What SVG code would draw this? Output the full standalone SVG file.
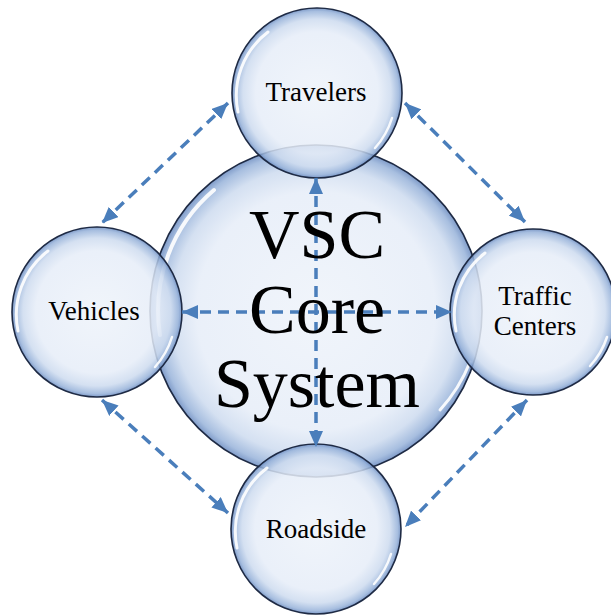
<svg xmlns="http://www.w3.org/2000/svg" width="611" height="616" viewBox="0 0 611 616">
<defs>
<radialGradient id="bubble" cx="50%" cy="50%" r="50%">
<stop offset="0" stop-color="#eef3fa"/>
<stop offset="0.72" stop-color="#e6edf8"/>
<stop offset="0.87" stop-color="#cddbef"/>
<stop offset="0.96" stop-color="#98b3da"/>
<stop offset="1" stop-color="#6889bf"/>
</radialGradient>
<marker id="ah" viewBox="0 0 16 14" refX="16" refY="7" markerWidth="16" markerHeight="14" markerUnits="userSpaceOnUse" orient="auto-start-reverse">
<path d="M0,0 L16,7 L0,14 z" fill="#4a7ebb"/>
</marker>
</defs>
<style>
.bub{fill:url(#bubble);fill-opacity:0.85;stroke:#1e2a44;stroke-width:1.6}
.hl{fill:none;stroke:#ffffff;stroke-linecap:round;stroke-opacity:0.9}
text{font-family:'Liberation Serif','Times New Roman','DejaVu Serif',serif;fill:#000;text-anchor:middle}
.small{font-size:27px}
.big{font-size:70px}
.con{fill:none;stroke:#4a7ebb;stroke-width:3.5;stroke-dasharray:11 7;marker-start:url(#ah);marker-end:url(#ah)}
</style>
<rect width="611" height="616" fill="#ffffff"/>

<g id="core">
<circle class="bub" cx="316" cy="311" r="166"/>
<path class="hl" stroke-width="4" d="M160,335 A158,158 0 0 1 214,190"/>
<path class="hl" stroke-width="3" d="M470,362 A158,158 0 0 1 440,410"/>
</g>

<g id="travelers">
<circle class="bub" cx="317" cy="93" r="85"/>
<path class="hl" stroke-width="3" d="M238,112 A80,80 0 0 1 268,32"/>
<path class="hl" stroke-width="2.5" d="M392,118 A80,80 0 0 1 375,148"/>
<text class="small" x="316" y="101" font-family="Liberation Serif, Times New Roman, serif">Travelers</text>
</g>

<g id="vehicles">
<circle class="bub" cx="97" cy="312" r="85"/>
<path class="hl" stroke-width="3" d="M18,331 A80,80 0 0 1 48,251"/>
<path class="hl" stroke-width="2.5" d="M172,337 A80,80 0 0 1 155,367"/>
<text class="small" x="94" y="320" font-family="Liberation Serif, Times New Roman, serif">Vehicles</text>
</g>

<g id="traffic-centers">
<circle class="bub" cx="533" cy="312" r="83"/>
<path class="hl" stroke-width="3" d="M456,331 A78,78 0 0 1 485,253"/>
<path class="hl" stroke-width="2.5" d="M607,337 A78,78 0 0 1 590,366"/>
<text class="small" x="535" y="305" font-family="Liberation Serif, Times New Roman, serif">Traffic</text>
<text class="small" x="535" y="335" font-family="Liberation Serif, Times New Roman, serif">Centers</text>
</g>

<g id="roadside">
<circle class="bub" cx="316" cy="529" r="85"/>
<path class="hl" stroke-width="3" d="M237,548 A80,80 0 0 1 267,468"/>
<path class="hl" stroke-width="2.5" d="M391,554 A80,80 0 0 1 374,584"/>
<text class="small" x="316" y="538" font-family="Liberation Serif, Times New Roman, serif">Roadside</text>
</g>

<g id="connectors">
<line class="con" x1="228" y1="103" x2="102" y2="223"/>
<line class="con" x1="405" y1="103" x2="525" y2="222"/>
<line class="con" x1="102" y1="400" x2="228" y2="513"/>
<line class="con" x1="527" y1="400" x2="405" y2="527"/>
<line class="con" x1="316" y1="178" x2="316" y2="447"/>
<line class="con" x1="182" y1="312" x2="452" y2="312"/>
</g>

<g id="core-label">
<text class="big" x="317" y="258" font-family="Liberation Serif, Times New Roman, serif">VSC</text>
<text class="big" x="317" y="333" font-family="Liberation Serif, Times New Roman, serif">Core</text>
<text class="big" x="317" y="407" font-family="Liberation Serif, Times New Roman, serif">System</text>
</g>
</svg>
